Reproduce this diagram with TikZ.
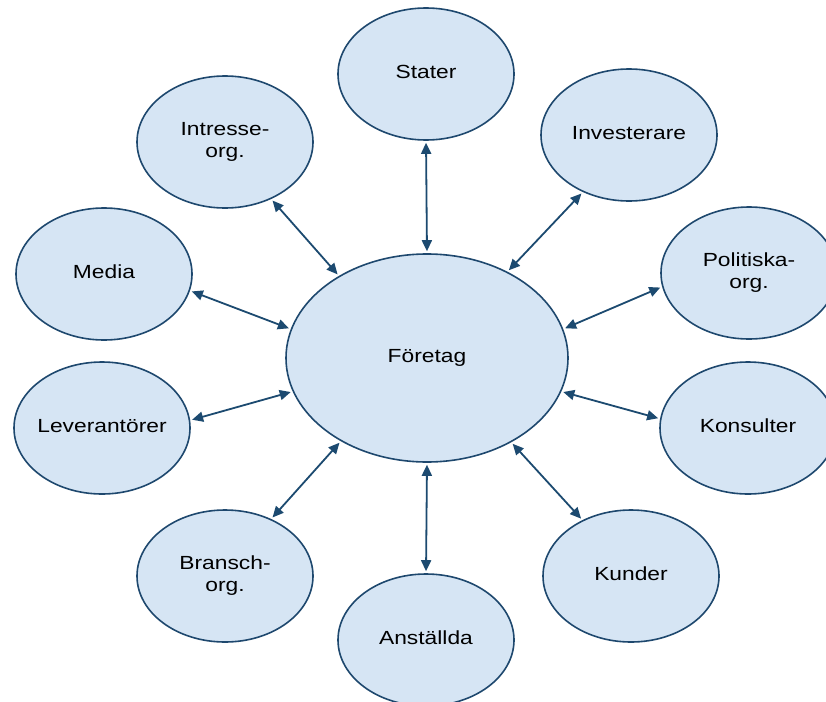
\documentclass[tikz,border=0pt]{standalone}
\usepackage{fontspec}
\setmainfont{Liberation Sans}[FakeStretch=1.2]
\usetikzlibrary{shapes.geometric,arrows.meta}
\definecolor{efill}{RGB}{214,229,244}
\definecolor{edraw}{RGB}{30,72,110}
\definecolor{arrcol}{RGB}{28,74,112}
\tikzset{
  sat/.style={ellipse, draw=edraw, fill=efill, line width=1.6pt,
    minimum width=176pt, minimum height=132pt, inner sep=0pt,
    font=\fontsize{19}{22}\selectfont},
  hub/.style={sat, minimum width=282pt, minimum height=208pt},
  link/.style={draw=arrcol, line width=1.8pt,
    {Triangle[length=11pt,width=10pt]}-{Triangle[length=11pt,width=10pt]},
    shorten <=2pt, shorten >=2pt}
}
\newcommand\lab[1]{\makebox[0pt]{\begin{tabular}{@{}c@{}}#1\end{tabular}}}
\begin{document}
\begin{tikzpicture}[x=1pt,y=-1pt]
\useasboundingbox (0,0) rectangle (826,701);
\fill[white] (0,0) rectangle (826,701);
\clip (0,0) rectangle (826,701);
\node[hub] (hub) at (427,358) {\lab{Företag}};
\node[sat] (stater) at (426,74) {\lab{Stater}};
\node[sat] (inv) at (629,135) {\lab{Investerare}};
\node[sat] (pol) at (749,273) {\lab{Politiska-\\org.}};
\node[sat] (kons) at (748,428) {\lab{Konsulter}};
\node[sat] (kund) at (631,576) {\lab{Kunder}};
\node[sat] (anst) at (426,640) {\lab{Anställda}};
\node[sat] (bransch) at (225,576) {\lab{Bransch-\\org.}};
\node[sat] (lev) at (102,428) {\lab{Leverantörer}};
\node[sat] (media) at (104,274) {\lab{Media}};
\node[sat] (intr) at (225,142) {\lab{Intresse-\\org.}};
\draw[link] (stater.-90) -- (hub.90);
\draw[link] (inv.-129) -- (hub.47);
\draw[link] (intr.-51) -- (hub.137);
\draw[link] (media.-11) -- (hub.168);
\draw[link] (lev.5.5) -- (hub.194);
\draw[link] (bransch.51) -- (hub.-136);
\draw[link] (anst.90) -- (hub.-90);
\draw[link] (kund.131) -- (hub.-45);
\draw[link] (kons.174) -- (hub.-14);
\draw[link] (pol.189) -- (hub.12);
\end{tikzpicture}
\end{document}
